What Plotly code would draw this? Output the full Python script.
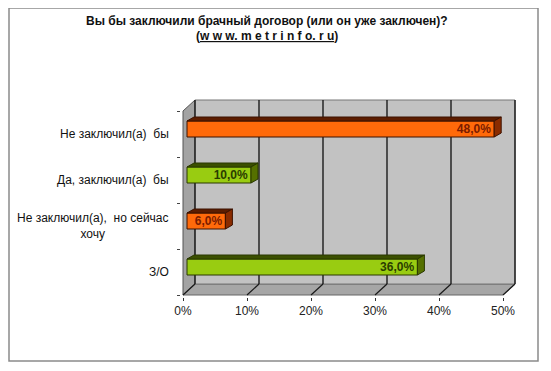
import plotly.graph_objects as go

# ---- data ----
categories = ["Не заключил(а)  бы", "Да, заключил(а)  бы", "Не заключил(а),  но сейчас<br>хочу", "З/О"]
values = [48.0, 10.0, 6.0, 36.0]
value_labels = ["48,0%", "10,0%", "6,0%", "36,0%"]
bar_kind = ["orange", "green", "orange", "green"]
x_ticks = [0, 10, 20, 30, 40, 50]
x_tick_labels = ["0%", "10%", "20%", "30%", "40%", "50%"]
title_line1 = "Вы бы заключили брачный договор (или он уже заключен)?"
title_line2 = "(<span style='text-decoration:underline'>w w w. m e t r i n f o. r u</span>)"

# ---- styles ----
FONT = "Liberation Sans, Arial, sans-serif"
PALETTE = {
    "orange": dict(face="#ff6a0a", top="#5c1d00", end="#8a2c00", line="#3d1200", text="#7a1c00"),
    "green": dict(face="#99cc11", top="#3b5000", end="#557000", line="#2a3800", text="#2a3d00"),
}
OFF = 8                      # default page body margin
W_FIG, H_FIG = 551 - OFF, 371 - OFF - 8
L, T = 181 - OFF, 98 - OFF   # plot area top-left in figure pixels
PW, PH = 336, 199
R, B = W_FIG - L - PW, H_FIG - T - PH
PX_X = 6.4          # pixels per 1 percent
PX_Y = 46.0         # pixels per category
X0_PX = 2           # offset of 0% from plot left
x_range = [-X0_PX / PX_X, -X0_PX / PX_X + PW / PX_X]
y_bot = -0.5 - 2 / PX_Y
y_range = [y_bot, y_bot + PH / PX_Y]
DX, DY = 12 / PX_X, 11 / PX_Y        # wall depth
BAR_BASE = 4 / PX_X
BAR_SHIFT = 5 / PX_Y
BAR_W = 16 / PX_Y
BDX, BDY = 7 / PX_X, 4 / PX_Y        # bar depth

n = len(categories)
ypos = [n - 1 - i for i in range(n)]
XMAX = x_ticks[-1]
YLO, YHI = -0.5, n - 0.5


def px_x(p):  # page pixel -> paper
    return (p - OFF - L) / PW


def px_y(p):
    return 1 - (p - OFF - T) / PH


def poly(pts):
    return "M " + " L ".join(f"{x},{y}" for x, y in pts) + " Z"


shapes = []
# walls
shapes.append(dict(type="path", layer="below", xref="x", yref="y",
                   path=poly([(0, YLO), (0, YHI), (DX, YHI + DY), (DX, YLO + DY)]),
                   fillcolor="#a3a3a3", line=dict(color="#555555", width=1)))
shapes.append(dict(type="path", layer="below", xref="x", yref="y",
                   path=poly([(0, YLO), (XMAX, YLO), (XMAX + DX, YLO + DY), (DX, YLO + DY)]),
                   fillcolor="#a6a6a6", line=dict(color="#666666", width=1)))
shapes.append(dict(type="rect", layer="below", xref="x", yref="y",
                   x0=DX, x1=XMAX + DX, y0=YLO + DY, y1=YHI + DY,
                   fillcolor="#c2c2c2", line=dict(color="#777777", width=1)))
# grid lines on back wall and floor
for t in x_ticks:
    shapes.append(dict(type="line", layer="below", xref="x", yref="y",
                       x0=t + DX, x1=t + DX, y0=YLO + DY, y1=YHI + DY,
                       line=dict(color="#1a1a1a", width=1.4)))
    shapes.append(dict(type="line", layer="below", xref="x", yref="y",
                       x0=t, x1=t + DX, y0=YLO, y1=YLO + DY,
                       line=dict(color="#1a1a1a", width=1.2)))
# 3D bar top and end faces
for v, yp, k in zip(values, ypos, bar_kind):
    c = PALETTE[k]
    y0 = yp + BAR_SHIFT - BAR_W / 2
    y1 = yp + BAR_SHIFT + BAR_W / 2
    x0 = BAR_BASE
    x1 = BAR_BASE + v
    shapes.append(dict(type="path", xref="x", yref="y", layer="above",
                       path=poly([(x0, y1), (x1, y1), (x1 + BDX, y1 + BDY), (x0 + BDX, y1 + BDY)]),
                       fillcolor=c["top"], line=dict(color=c["line"], width=1)))
    shapes.append(dict(type="path", xref="x", yref="y", layer="above",
                       path=poly([(x1, y0), (x1, y1), (x1 + BDX, y1 + BDY), (x1 + BDX, y0 + BDY)]),
                       fillcolor=c["end"], line=dict(color=c["line"], width=1)))
# outer frame
shapes.append(dict(type="rect", xref="paper", yref="paper",
                   x0=px_x(9), x1=px_x(538), y0=px_y(361), y1=px_y(8),
                   line=dict(color="#8a8a8a", width=1.5), fillcolor="rgba(0,0,0,0)"))

fig = go.Figure()
fig.add_trace(go.Bar(
    orientation="h",
    x=values,
    y=[yp + BAR_SHIFT for yp in ypos],
    base=BAR_BASE,
    width=BAR_W,
    marker=dict(color=[PALETTE[k]["face"] for k in bar_kind],
                line=dict(color=[PALETTE[k]["line"] for k in bar_kind], width=1)),
    text=value_labels,
    textposition="inside",
    insidetextanchor="end",
    constraintext="none",
    textfont=dict(family=FONT, size=12, color=[PALETTE[k]["text"] for k in bar_kind]),
    texttemplate="<b>%{text}</b>",
    hoverinfo="skip",
))

annotations = [
    dict(text=f"<b>{title_line1}</b>", xref="paper", yref="paper", x=px_x(267), y=px_y(21),
         showarrow=False, xanchor="center", yanchor="middle",
         font=dict(family=FONT, size=12, color="#111111")),
    dict(text=f"<b>{title_line2}</b>", xref="paper", yref="paper", x=px_x(267), y=px_y(36),
         showarrow=False, xanchor="center", yanchor="middle",
         font=dict(family=FONT, size=12, color="#111111")),
]
for cat, yp in zip(categories, ypos):
    annotations.append(dict(text=cat, xref="paper", yref="y", x=px_x(171), y=yp,
                            showarrow=False, xanchor="right", yanchor="middle", align="center",
                            font=dict(family=FONT, size=12, color="#111111")))

fig.update_layout(
    width=W_FIG, height=H_FIG,
    margin=dict(l=L, r=R, t=T, b=B, pad=0),
    paper_bgcolor="white", plot_bgcolor="white",
    showlegend=False,
    shapes=shapes,
    annotations=annotations,
    xaxis=dict(range=x_range, tickvals=x_ticks, ticktext=x_tick_labels,
               showgrid=False, zeroline=False, showline=False,
               ticks="outside", ticklen=3, tickcolor="#333333",
               tickfont=dict(family=FONT, size=12, color="#222222"), fixedrange=True),
    yaxis=dict(range=y_range, tickvals=[i - 0.5 for i in range(n + 1)], showticklabels=False,
               showgrid=False, zeroline=False, showline=False,
               ticks="outside", ticklen=3, tickcolor="#444444", fixedrange=True),
)

fig.write_html("out.html")
